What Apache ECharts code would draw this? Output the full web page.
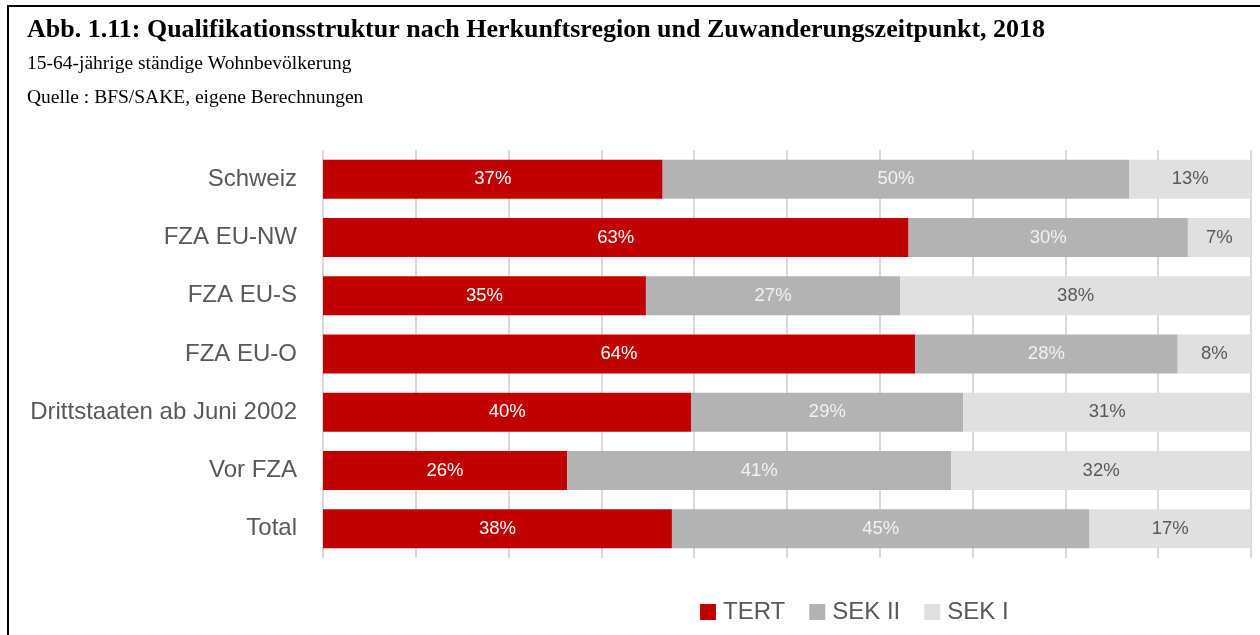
<!DOCTYPE html>
<html>
<head>
<meta charset="utf-8">
<script src="https://cdn.jsdelivr.net/npm/echarts@6/dist/echarts.min.js"></script>
<style>
  html, body { margin: 0; padding: 0; background: #fff; }
  #chart { width: 1260px; height: 635px; }
</style>
</head>
<body>
<div id="chart"></div>
<script>
// Kategorien (von oben nach unten)
const regions = ['Schweiz', 'FZA EU-NW', 'FZA EU-S', 'FZA EU-O', 'Drittstaaten ab Juni 2002', 'Vor FZA', 'Total'];

// Anteile in %
const tert = [36.6, 63.1, 34.8, 63.8, 39.7, 26.3, 37.6];
const sek2 = [50.3, 30.1, 27.4, 28.3, 29.3, 41.4, 45.0];
const sek1 = [13.1, 6.8, 37.8, 7.9, 31.0, 32.3, 17.4];

const seriesNames = ['TERT', 'SEK II', 'SEK I'];
const seriesColors = ['#C00000', '#B3B3B3', '#E0E0E0'];
const labelColors = ['#FFFFFF', '#F2F2F2', '#595959'];

const sansFont = '"Liberation Sans", Arial, sans-serif';
const serifFont = '"Liberation Serif", "Times New Roman", serif';

const chart = echarts.init(document.getElementById('chart'));

const makeSeries = (name, data, idx) => ({
  name: name,
  type: 'bar',
  stack: 'total',
  data: data,
  barWidth: 39,
  itemStyle: { color: seriesColors[idx] },
  label: {
    show: true,
    position: 'inside',
    formatter: p => Math.round(p.value) + '%',
    color: labelColors[idx],
    fontFamily: sansFont,
    fontSize: 18.5
  },
  emphasis: { disabled: true }
});

const option = {
  animation: false,
  title: [
    {
      text: 'Abb. 1.11: Qualifikationsstruktur nach Herkunftsregion und Zuwanderungszeitpunkt, 2018',
      left: 22,
      top: 12,
      textStyle: { fontFamily: serifFont, fontWeight: 'bold', fontSize: 26, color: '#000' }
    },
    {
      text: '15-64-jährige ständige Wohnbevölkerung',
      left: 22,
      top: 49,
      textStyle: { fontFamily: serifFont, fontWeight: 'normal', fontSize: 19.5, color: '#000' }
    },
    {
      text: 'Quelle : BFS/SAKE, eigene Berechnungen',
      left: 22,
      top: 83,
      textStyle: { fontFamily: serifFont, fontWeight: 'normal', fontSize: 19.5, color: '#000' }
    }
  ],
  // Rahmen oben und links
  graphic: [
    { type: 'rect', shape: { x: 7, y: 5, width: 1253, height: 2 }, style: { fill: '#000' } },
    { type: 'rect', shape: { x: 7, y: 5, width: 2, height: 630 }, style: { fill: '#000' } }
  ],
  legend: {
    data: seriesNames,
    left: 695,
    top: 595,
    icon: 'rect',
    itemWidth: 16,
    itemHeight: 16,
    itemGap: 24,
    textStyle: { fontFamily: sansFont, fontSize: 24, color: '#595959', padding: [0, 0, 0, 2] }
  },
  grid: {
    left: 323,
    right: 9,
    top: 150,
    bottom: 77
  },
  xAxis: {
    type: 'value',
    min: 0,
    max: 100,
    interval: 10,
    axisLabel: { show: false },
    axisLine: { show: false },
    axisTick: { show: false },
    splitLine: { show: true, lineStyle: { color: '#D9D9D9', width: 2 } }
  },
  yAxis: {
    type: 'category',
    data: regions,
    inverse: true,
    axisLine: { show: false },
    axisTick: { show: false },
    axisLabel: {
      margin: 26,
      fontFamily: sansFont,
      fontSize: 24,
      color: '#595959'
    }
  },
  series: [
    makeSeries(seriesNames[0], tert, 0),
    makeSeries(seriesNames[1], sek2, 1),
    makeSeries(seriesNames[2], sek1, 2)
  ]
};

chart.setOption(option);
</script>
</body>
</html>
